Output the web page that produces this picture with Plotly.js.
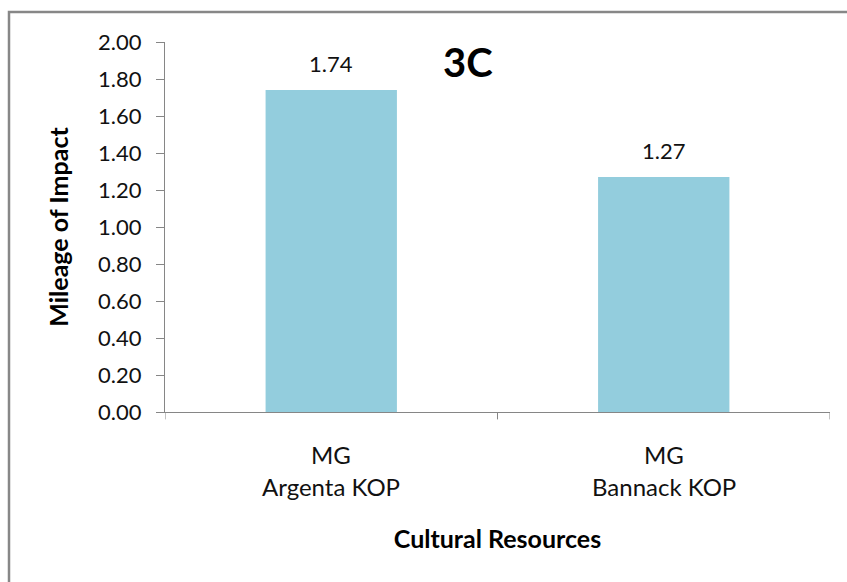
<!DOCTYPE html>
<html>
<head>
<meta charset="utf-8">
<script src="https://cdn.plot.ly/plotly-3.0.1.min.js"></script>
<style>
  html, body { margin: 0; padding: 0; background: #fff; }
  #chart { width: 847px; height: 582px; }
</style>
</head>
<body>
<div id="chart"></div>
<script>
// Mileage of impact on cultural resources by key observation point
const groupLabel = "MG";
const categories = ["Argenta KOP", "Bannack KOP"];
const mileage = [1.74, 1.27];
const yTickVals = [0, 0.2, 0.4, 0.6, 0.8, 1.0, 1.2, 1.4, 1.6, 1.8, 2.0];
const panelLabel = "3C";
const xTitle = "Cultural Resources";
const yTitle = "Mileage of Impact";

const FONT = "Lato, 'Open Sans', sans-serif";
const AXIS_GRAY = "#868686";
const TEXT = "#111111";

const bars = {
  type: "bar",
  x: categories,
  y: mileage,
  marker: { color: "#93CDDD" },
  width: 0.395,
  hoverinfo: "x+y"
};

// value labels above each bar
const valueLabels = categories.map((c, i) => ({
  x: c, y: mileage[i], xref: "x", yref: "y",
  text: mileage[i].toFixed(2),
  showarrow: false, yshift: 27,
  font: { family: FONT, size: 22, color: TEXT }
}));

// two-line category labels under the axis
const catLabels = [];
categories.forEach(c => {
  catLabels.push({
    x: c, y: 0, xref: "x", yref: "y", text: groupLabel,
    showarrow: false, yshift: -42,
    font: { family: FONT, size: 24, color: TEXT }
  });
  catLabels.push({
    x: c, y: 0, xref: "x", yref: "y", text: c,
    showarrow: false, yshift: -74,
    font: { family: FONT, size: 24, color: TEXT }
  });
});

const plotW = 847 - 165 - 17, plotH = 582 - 42 - 170;

const layout = {
  width: 847, height: 582,
  margin: { l: 165, r: 17, t: 42, b: 170 },
  paper_bgcolor: "#ffffff",
  plot_bgcolor: "#ffffff",
  showlegend: false,
  xaxis: {
    type: "category",
    range: [-0.5, 1.5],
    showticklabels: false,
    showline: true, linecolor: AXIS_GRAY, linewidth: 1,
    ticks: "", showgrid: false, zeroline: false,
    fixedrange: true,
    title: {
      text: "<b>" + xTitle + "</b>",
      font: { family: FONT, size: 25, color: "#000" },
      standoff: 118
    },
    automargin: false
  },
  yaxis: {
    range: [0, 2],
    tickvals: yTickVals,
    ticktext: yTickVals.map(v => v.toFixed(2)),
    ticks: "outside", ticklen: 8, tickcolor: AXIS_GRAY,
    ticklabelstandoff: 10,
    showline: true, linecolor: AXIS_GRAY, linewidth: 1,
    showgrid: false, zeroline: false,
    tickfont: { family: FONT, size: 22, color: TEXT },
    fixedrange: true,
    title: {
      text: "<b>" + yTitle + "</b>",
      font: { family: FONT, size: 25, color: "#000" },
      standoff: 22
    },
    automargin: false
  },
  annotations: valueLabels.concat(catLabels).concat([{
    x: (468 - 165) / plotW, y: (412 - 62) / plotH,
    xref: "paper", yref: "paper", xanchor: "center", yanchor: "middle",
    text: "<b>" + panelLabel + "</b>",
    showarrow: false,
    font: { family: FONT, size: 40, color: "#000" }
  }]),
  shapes: [
    // x-axis tick marks at category boundaries
    { type: "line", xref: "x", yref: "paper", x0: -0.5, x1: -0.5, y0: 0, y1: -0.02,
      line: { color: AXIS_GRAY, width: 1 } },
    { type: "line", xref: "x", yref: "paper", x0: 0.5, x1: 0.5, y0: 0, y1: -0.02,
      line: { color: AXIS_GRAY, width: 1 } },
    { type: "line", xref: "x", yref: "paper", x0: 1.5, x1: 1.5, y0: 0, y1: -0.02,
      line: { color: AXIS_GRAY, width: 1 } },
    // outer chart frame
    { type: "rect", xref: "paper", yref: "paper",
      x0: (9 - 165) / plotW, x1: (860 - 165) / plotW,
      y0: (412 - 600) / plotH, y1: (412 - 12) / plotH,
      line: { color: "#878787", width: 2.5 }, fillcolor: "rgba(0,0,0,0)", layer: "below" }
  ]
};

Plotly.newPlot("chart", [bars], layout, { displayModeBar: false, staticPlot: true });
</script>
</body>
</html>
